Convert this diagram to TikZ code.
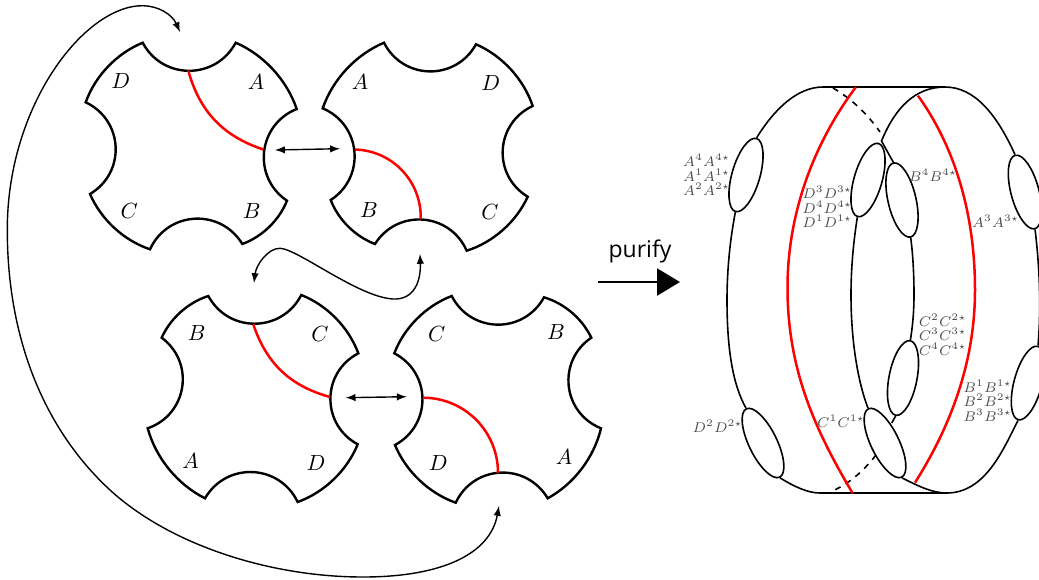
\documentclass[tikz,border=0pt]{standalone}
\usepackage{amsmath}
\usepackage{fontspec}
\newfontfamily\purifyfont{Open Sans}
\usetikzlibrary{positioning,calc,shapes.geometric,arrows,arrows.meta}
\definecolor{cutred}{rgb}{1.0, 0.0, 0.0}
\definecolor{labelgray}{rgb}{0.3, 0.3, 0.3}
\newcommand{\portfont}{\fontsize{7.2}{7.3}\selectfont\lineskiplimit=-5pt\relax}
\tikzset{
	notch/.style={bend right=62,looseness=1.17},
	rim/.style={bend left=24,looseness=0.87},
	tileline/.style={line width=1.2pt,line join=miter},
	cutline/.style={cutred,line width=1.25pt},
	tilelabel/.style={font=\fontsize{11}{13}\selectfont,inner sep=0pt},
	port/.style={ellipse,draw,line width=0.8pt,minimum width=14pt,minimum height=38pt,inner sep=0pt},
	portlabel/.style={labelgray,align=center,inner sep=0pt,font=\portfont},
	surface/.style={line width=0.8pt},
	glue/.style={line width=0.7pt,latex-latex}
}
% corners clockwise from the top notch
\newcommand{\drawtile}[8]{
	\draw[tileline] #1 to[notch] #2 to[rim] #3 to[notch] #4 to[rim] #5 to[notch] #6 to[rim] #7 to[notch] #8 to[rim] cycle;
}
\begin{document}
\begin{tikzpicture}[x=0.5pt,y=-0.5pt]
	\useasboundingbox (0,0) rectangle (1039,579);
	
	\drawtile{(142.7,42.7)}{(235.7,42.7)}{(296.7,109)}{(287,200.7)}{(242.3,244)}{(150,249.3)}{(90,194)}{(85.7,102.3)}
	\drawtile{(384,42.7)}{(476,44.3)}{(532.7,106)}{(527.7,196.7)}{(466.7,250.7)}{(375,244)}{(330.7,200)}{(322.7,108.3)}
	\drawtile{(208.3,296)}{(301.3,295)}{(358.3,353.3)}{(357.7,444.3)}{(297.7,502)}{(205,498.3)}{(147.7,428.3)}{(161.7,337.7)}
	\drawtile{(451.7,296)}{(544,297.3)}{(591.3,337.7)}{(601,428.3)}{(547.7,498.3)}{(455.7,502.7)}{(395,445)}{(394.3,353.3)}
	
	\draw[cutline] (188.3,70.7) to[bend right=28] (263.3,149.5);
	\draw[cutline] (355,149.5) to[bend left=45] (420.7,219);
	\draw[cutline] (253.3,324.3) to[bend right=28] (330,397);
	\draw[cutline] (423.3,397.7) to[bend left=45] (498,473);
	
	\node[tilelabel] (tl D) at (120.7,81) {$D$};
	\node[tilelabel] (tl A) at (256,82.3) {$A$};
	\node[tilelabel] (tl C) at (129.3,210.7) {$C$};
	\node[tilelabel] (tl B) at (251.7,210.7) {$B$};
	\node[tilelabel] (tr A) at (360,82.3) {$A$};
	\node[tilelabel] (tr D) at (490.7,82.7) {$D$};
	\node[tilelabel] (tr B) at (369,210) {$B$};
	\node[tilelabel] (tr C) at (490,211.7) {$C$};
	\node[tilelabel] (bl B) at (196.7,332.7) {$B$};
	\node[tilelabel] (bl C) at (320,334.3) {$C$};
	\node[tilelabel] (bl A) at (190.7,460.7) {$A$};
	\node[tilelabel] (bl D) at (316,463.3) {$D$};
	\node[tilelabel] (br C) at (436.7,334.3) {$C$};
	\node[tilelabel] (br B) at (556,332.3) {$B$};
	\node[tilelabel] (br D) at (438.3,463.3) {$D$};
	\node[tilelabel] (br A) at (564,456.7) {$A$};
	
	\coordinate (Top left) at (275,150);
	\coordinate (Top right) at (340,148.7);
	\coordinate (Low left) at (345.7,397.7);
	\coordinate (Low right) at (406.7,396.7);
	\coordinate (Notch tl) at (180,32);
	\coordinate (Notch br) at (499,506);
	\coordinate (Notch bl) at (254,283);
	\coordinate (Notch tr) at (420,254);
	
	\draw[glue] (Top left) -- (Top right);
	\draw[glue] (Low left) -- (Low right);
	\draw[glue] (Notch tl) .. controls (172,14) and (158,6) .. (143,5.7) .. controls (85,5) and (7,105) .. (7.3,230) .. controls (7.3,340) and (45,430) .. (110,490) .. controls (170,545) and (270,577) .. (363,577) .. controls (440,577) and (490,555) .. (Notch br);
	\draw[glue] (Notch bl) .. controls (256,265) and (268,248) .. (280,248.3) .. controls (298,249) and (358,297) .. (393,299) .. controls (415,300) and (421,280) .. (Notch tr);
	
	%the purification arrow
	\coordinate (Arrow start) at (598,282);
	\coordinate (Arrow end) at (680,282);
	\draw[line width=1.2pt,-{Triangle[length=11.5pt,width=13.5pt]}] (Arrow start) -- (Arrow end);
	\node[inner sep=0pt,font=\purifyfont\fontsize{11.5}{14}\selectfont] (purify) at (640,251) {purify};
	
	\node[port,rotate=-16] (e A) at (746,175) {};
	\node[port,rotate=26] (e D) at (763,443) {};
	\node[port,rotate=-16] (e D3) at (868,180) {};
	\node[port,rotate=26] (e C1) at (885,443) {};
	\node[port,rotate=13] (e B4) at (902,200) {};
	\node[port,rotate=-11] (e C2) at (903,378) {};
	\node[port,rotate=15] (e A3) at (1025,192) {};
	\node[port,rotate=-15] (e B1) at (1028,383) {};
	
	\coordinate (Top a) at (823,87);
	\coordinate (Top b) at (945,87);
	\coordinate (Bot a) at (820,493);
	\coordinate (Bot b) at (946.7,493);
	\coordinate (Back join) at (881.5,141);
	\coordinate (Low join) at (891.7,423);
	
	\draw[surface] (e A.north) .. controls (775,108) and (798,87) .. (Top a) -- (Top b) .. controls (975,87) and (997,115) .. (e A3.north);
	\draw[surface] (Top b) .. controls (915,87) and (895,108) .. (Back join) -- (e B4.north);
	\draw[surface] (e A.south) .. controls (730,240) and (727,270) .. (727,300) .. controls (727,350) and (733,385) .. (e D.north);
	\draw[surface] (e D.south) .. controls (795,487) and (808,493) .. (Bot a) -- (Bot b) .. controls (985,493) and (1003,450) .. (e B1.south);
	\draw[surface] (e C1.south) .. controls (920,487) and (933,493) .. (Bot b);
	\draw[surface] (e D3.south) .. controls (853,245) and (851,270) .. (851,295) .. controls (851,345) and (859,385) .. (e C1.north);
	\draw[surface] (e B4.south) .. controls (913,255) and (914,275) .. (914,295) .. controls (914,315) and (912,330) .. (e C2.north);
	\draw[surface] (e C2.south) -- (Low join);
	\draw[surface] (e A3.south) .. controls (1040,270) and (1041,310) .. (e B1.north);
	
	\coordinate (Dash a) at (833,88);
	\coordinate (Dash b) at (880,132);
	\coordinate (Dash c) at (876,455);
	\coordinate (Dash d) at (830,492);
	\draw[surface,dashed] (Dash a) .. controls (850,98) and (866,112) .. (Dash b);
	\draw[surface,dashed] (Dash c) .. controls (862,473) and (847,485) .. (Dash d);
	
	\draw[cutline] (855.7,87.3) .. controls (820,135) and (787,205) .. (787.5,290) .. controls (788,370) and (815,430) .. (852.7,493.3);
	\draw[cutline] (918,95.7) .. controls (950,140) and (975,205) .. (975,290) .. controls (975,370) and (945,435) .. (915,482.7);
	
	\node[portlabel] (lab A) at (706.7,175) {$A^4A^{4\star}$\\$A^1A^{1\star}$\\$A^2A^{2\star}$};
	\node[portlabel] (lab D) at (827.3,207) {$D^3D^{3\star}$\\$D^4D^{4\star}$\\$D^1D^{1\star}$};
	\node[portlabel] (lab B4) at (933,175) {$B^4B^{4\star}$};
	\node[portlabel] (lab A3) at (995.7,221.7) {$A^3A^{3\star}$};
	\node[portlabel] (lab C) at (942.7,334.5) {$C^2C^{2\star}$\\$C^3C^{3\star}$\\$C^4C^{4\star}$};
	\node[portlabel] (lab B) at (987.7,400.7) {$B^1B^{1\star}$\\$B^2B^{2\star}$\\$B^3B^{3\star}$};
	\node[portlabel] (lab C1) at (841,421.7) {$C^1C^{1\star}$};
	\node[portlabel] (lab D2) at (717.7,426) {$D^2D^{2\star}$};
\end{tikzpicture}
\end{document}
